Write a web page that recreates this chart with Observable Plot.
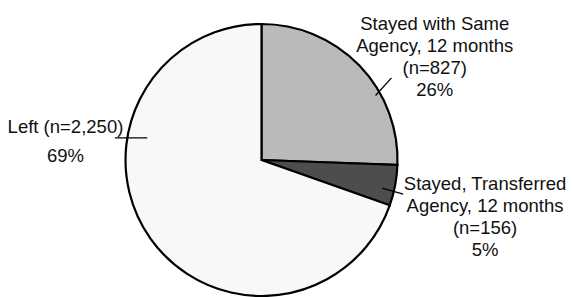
<!DOCTYPE html>
<html>
<head>
<meta charset="utf-8">
<script src="https://cdn.jsdelivr.net/npm/d3@7"></script>
<script src="https://cdn.jsdelivr.net/npm/@observablehq/plot@0.6"></script>
<style>
  html, body { margin: 0; padding: 0; background: #fff; }
  #chart svg { display: block; }
</style>
</head>
<body>
<div id="chart"></div>
<script>
// ---- Data ----
const categories = ["Stayed with Same Agency, 12 months", "Stayed, Transferred Agency, 12 months", "Left"];
const counts = [827, 156, 2250];
const percents = ["26%", "5%", "69%"];
const labelTexts = [
  "Stayed with Same\nAgency, 12 months\n(n=827)\n26%",
  "Stayed, Transferred\nAgency, 12 months\n(n=156)\n5%",
  "Left (n=2,250)\n69%"
];
const colors = ["#bababa", "#4d4d4d", "#f8f8f8"];

// ---- Layout (in pie-radius units, centre = 0,0) ----
const labelPos = [
  {x: 1.27, y: 1.077, lh: 1.19},
  {x: 1.64, y: -0.104, lh: 1.18},
  {x: -1.445, y: 0.354, lh: 1.57}
];
const leaders = [
  {x1: 0.835, y1: 0.478, x2: 0.952, y2: 0.608},
  {x1: 0.884, y1: -0.204, x2: 1.038, y2: -0.248},
  {x1: -0.844, y1: 0.167, x2: -1.082, y2: 0.167}
];

const slices = d3.pie().sort(null).value(d => d)(counts);

function pieMark(index, scales) {
  const cx = scales.x(0), cy = scales.y(0);
  const r = scales.x(1) - cx;
  const arc = d3.arc().innerRadius(0).outerRadius(r);
  const g = d3.create("svg:g").attr("transform", `translate(${cx},${cy})`);
  g.selectAll("path").data(slices).join("path")
    .attr("d", arc)
    .attr("fill", (d, i) => colors[i])
    .attr("stroke", "#000")
    .attr("stroke-width", 2.2)
    .attr("stroke-linejoin", "miter");
  return g.node();
}

const labels = labelTexts.map((t, i) => ({text: t, ...labelPos[i]}));

const chart = Plot.plot({
  width: 572,
  height: 297,
  margin: 0,
  style: {background: "#fff", fontFamily: "'Liberation Sans', Arial, sans-serif"},
  x: {domain: [-1, 1], range: [125.5, 397.5], axis: null},
  y: {domain: [-1, 1], range: [296, 24], axis: null},
  marks: [
    pieMark,
    Plot.link(leaders, {x1: "x1", y1: "y1", x2: "x2", y2: "y2", stroke: "#000", strokeWidth: 1.3}),
    ...labels.map(l => Plot.text([l], {
      x: "x", y: "y", text: "text",
      lineAnchor: "top", textAnchor: "middle",
      lineHeight: l.lh, fontSize: 18.5, fill: "#111"
    }))
  ]
});
document.getElementById("chart").appendChild(chart);
</script>
</body>
</html>
